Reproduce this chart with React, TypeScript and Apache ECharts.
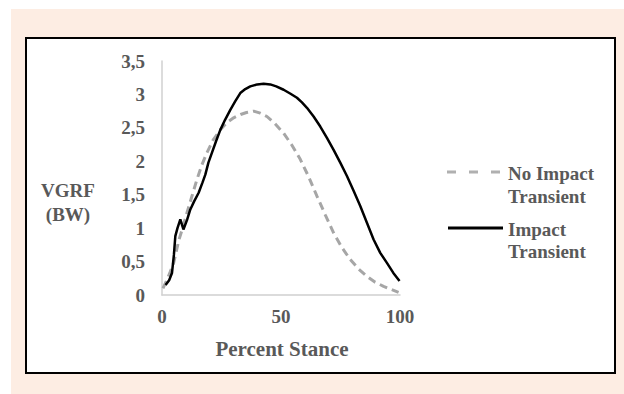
import React, { useEffect, useRef } from "react";
import * as echarts from "echarts";

const impactX = [1.5, 3, 4.2, 5, 5.6, 6.5, 7.7, 9, 10.5, 11.9, 13.5, 15.4, 17, 18.2, 19.5, 21, 22.7, 24.5, 26.5, 28.7, 30.8, 32.9, 35, 37.1, 40, 42.7, 45.5, 48, 51.1, 54, 56.7, 58.8, 60.9, 63.7, 66.5, 69.3, 72.1, 74.9, 77.7, 80.5, 83.3, 86.1, 88.9, 91.7, 94.5, 97.2, 99.8];
const impactY = [0.15, 0.22, 0.33, 0.6, 0.88, 1.0, 1.13, 0.98, 1.12, 1.28, 1.4, 1.53, 1.68, 1.8, 1.98, 2.13, 2.3, 2.47, 2.62, 2.77, 2.9, 3.02, 3.08, 3.12, 3.15, 3.16, 3.15, 3.12, 3.07, 3.01, 2.95, 2.88, 2.8, 2.67, 2.52, 2.35, 2.17, 1.98, 1.78, 1.56, 1.33, 1.08, 0.83, 0.63, 0.48, 0.33, 0.21];

const noImpactX = [0.4, 2, 3.5, 4.9, 6, 7, 8.8, 10.5, 12.6, 14.7, 16.8, 18.9, 21.5, 24.5, 27.3, 30.1, 33, 35.5, 38.5, 41.3, 44.1, 47.5, 51.1, 54.6, 58.1, 61.6, 65.1, 68.6, 72.1, 75.6, 79.1, 82.6, 86.1, 89.6, 93.1, 96.5, 99.4];
const noImpactY = [0.1, 0.22, 0.35, 0.48, 0.65, 0.81, 1.02, 1.23, 1.48, 1.73, 1.95, 2.13, 2.32, 2.47, 2.58, 2.65, 2.7, 2.73, 2.75, 2.72, 2.67, 2.56, 2.42, 2.24, 2.03, 1.77, 1.48, 1.2, 0.93, 0.71, 0.53, 0.39, 0.28, 0.19, 0.13, 0.08, 0.04];

const seriesNames = ["No Impact\nTransient", "Impact\nTransient"];
const xTicks = { min: 0, max: 100, interval: 50 };
const yTicks = { min: 0, max: 3.5, interval: 0.5 };

const FONT = "'Liberation Serif', 'DejaVu Serif', serif";
const TXT = "#595959";

export default function App() {
  const ref = useRef<HTMLDivElement>(null);
  useEffect(() => {
    if (!ref.current) return;
    const chart = echarts.init(ref.current, undefined, { renderer: "svg" });
    const textStyle = (x: number, y: number, text: string, size: number, align = "left") => ({
      type: "text",
      x,
      y,
      z: 10,
      style: {
        text,
        fill: TXT,
        font: `bold ${size}px ${FONT}`,
        align,
        verticalAlign: "middle",
      },
    });
    chart.setOption({
      animation: false,
      backgroundColor: "#ffffff",
      grid: { left: 162, right: 224, top: 61, bottom: 99, containLabel: false },
      xAxis: {
        type: "value",
        min: xTicks.min,
        max: xTicks.max,
        interval: xTicks.interval,
        splitLine: { show: false },
        axisTick: { show: false },
        axisLine: { show: true, lineStyle: { color: "#d0d0d0", width: 1.5 } },
        axisLabel: { color: TXT, fontFamily: FONT, fontSize: 19, fontWeight: "bold", margin: 12 },
      },
      yAxis: {
        type: "value",
        min: yTicks.min,
        max: yTicks.max,
        interval: yTicks.interval,
        splitLine: { show: false },
        axisTick: { show: false },
        axisLine: { show: true, lineStyle: { color: "#d0d0d0", width: 1.5 } },
        axisLabel: {
          color: TXT,
          fontFamily: FONT,
          fontSize: 19,
          fontWeight: "bold",
          margin: 17,
          formatter: (v: number) => String(v).replace(".", ","),
        },
      },
      series: [
        {
          name: seriesNames[0],
          type: "line",
          showSymbol: false,
          symbol: "none",
          data: noImpactX.map((x, i) => [x, noImpactY[i]]),
          lineStyle: { color: "#a6a6a6", width: 3, type: [8, 5] },
          z: 2,
        },
        {
          name: seriesNames[1],
          type: "line",
          showSymbol: false,
          symbol: "none",
          data: impactX.map((x, i) => [x, impactY[i]]),
          lineStyle: { color: "#000000", width: 2.5 },
          z: 3,
        },
      ],
      graphic: [
        { type: "rect", z: -20, shape: { x: 11, y: 9, width: 620, height: 390 }, style: { fill: "#fdede3" } },
        {
          type: "rect",
          z: -10,
          shape: { x: 26, y: 38, width: 589, height: 335 },
          style: { fill: "#ffffff", stroke: "#000000", lineWidth: 2 },
        },
        textStyle(282, 349, "Percent Stance", 21, "center"),
        textStyle(68, 190, "VGRF", 19, "center"),
        textStyle(68, 214, "(BW)", 19, "center"),
        {
          type: "line",
          z: 10,
          shape: { x1: 447, y1: 172, x2: 503, y2: 172 },
          style: { stroke: "#b0b0b0", lineWidth: 3, lineDash: [9, 13] },
        },
        {
          type: "line",
          z: 10,
          shape: { x1: 448, y1: 228, x2: 503, y2: 228 },
          style: { stroke: "#000000", lineWidth: 3 },
        },
        textStyle(508, 173, "No Impact", 19),
        textStyle(508, 196, "Transient", 19),
        textStyle(508, 229, "Impact", 19),
        textStyle(508, 251, "Transient", 19),
      ],
    });
    return () => chart.dispose();
  }, []);
  return <div ref={ref} style={{ position: "fixed", left: 0, top: 0, width: 624, height: 394 }} />;
}
